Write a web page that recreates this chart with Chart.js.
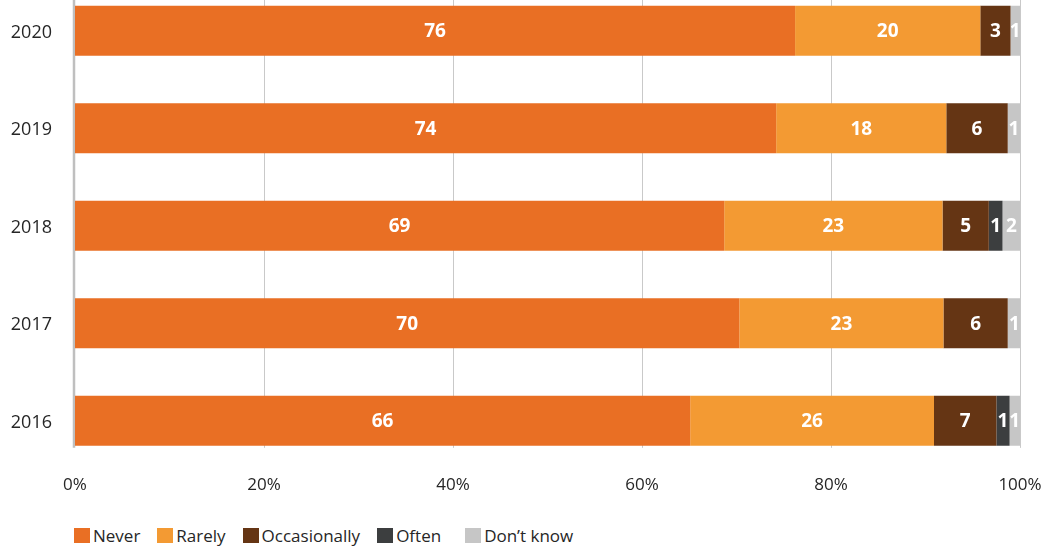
<!DOCTYPE html>
<html>
<head>
<meta charset="utf-8">
<script src="https://cdn.jsdelivr.net/npm/chart.js@4"></script>
<style>
  html, body { margin: 0; padding: 0; background: #fff; overflow: hidden; }
  body { width: 1056px; height: 549px; position: relative; }
  #wrap { position: absolute; left: 0; top: -18px; width: 1056px; height: 525px; }
  #legend {
    position: absolute; left: 74px; top: 524px;
    display: flex; align-items: center;
    font-family: "Open Sans", sans-serif; font-size: 17px; color: #262626;
  }
  #legend .item { display: flex; align-items: center; margin-right: 17px; }
  #legend .item:nth-child(4) { margin-right: 24px; }
  #legend .box { width: 16px; height: 15px; margin-right: 3px; }
</style>
</head>
<body>
<div id="wrap"><canvas id="surveyChart"></canvas></div>
<div id="legend"></div>
<script>
// ## DATA ##
const years = ["2020", "2019", "2018", "2017", "2016"];
const seriesNames = ["Never", "Rarely", "Occasionally", "Often", "Don\u2019t know"];
const seriesColors = ["#E96F24", "#F39A33", "#653514", "#3C3E3F", "#C6C6C6"];

// bar lengths (share, %) as drawn
const never = [76.2, 74.2, 68.7, 70.3, 65.1];
const rarely = [19.6, 18.0, 23.1, 21.6, 25.8];
const occasionally = [3.2, 6.5, 4.9, 6.8, 6.6];
const often = [0, 0, 1.45, 0, 1.4];
const dontKnow = [1.0, 1.3, 1.9, 1.4, 1.1];

// printed labels
const neverLabels = ["76", "74", "69", "70", "66"];
const rarelyLabels = ["20", "18", "23", "23", "26"];
const occasionallyLabels = ["3", "6", "5", "6", "7"];
const oftenLabels = ["", "", "1", "", "1"];
const dontKnowLabels = ["1", "1", "2", "1", "1"];

const xTicks = [0, 20, 40, 60, 80, 100];

const seriesValues = [never, rarely, occasionally, often, dontKnow];
const seriesLabels = [neverLabels, rarelyLabels, occasionallyLabels, oftenLabels, dontKnowLabels];

const FONT = '"Open Sans", sans-serif';

// vertical grid lines, stopping at the bottom of the last bar
const gridPlugin = {
  id: "gridLines",
  beforeDatasetsDraw(chart) {
    const ctx = chart.ctx;
    const xs = chart.scales.x;
    const meta = chart.getDatasetMeta(0);
    const last = meta.data[meta.data.length - 1];
    const bottom = last.y + last.height / 2 + 2;
    ctx.save();
    xTicks.forEach((v) => {
      const x = Math.round(xs.getPixelForValue(v)) + 0.5;
      ctx.beginPath();
      ctx.strokeStyle = v === 0 ? "#BFBFBF" : "#C9C9C9";
      ctx.lineWidth = v === 0 ? 2.5 : 1;
      ctx.moveTo(v === 0 ? x - 1.5 : x, chart.chartArea.top);
      ctx.lineTo(v === 0 ? x - 1.5 : x, bottom);
      ctx.stroke();
    });
    ctx.restore();
  },
};

// white value labels centred in each segment
const valueLabelPlugin = {
  id: "valueLabels",
  afterDatasetsDraw(chart) {
    const ctx = chart.ctx;
    ctx.save();
    ctx.font = "bold 19px " + FONT;
    ctx.fillStyle = "#FFFFFF";
    ctx.textAlign = "center";
    ctx.textBaseline = "middle";
    chart.data.datasets.forEach((ds, i) => {
      const meta = chart.getDatasetMeta(i);
      meta.data.forEach((bar, j) => {
        const txt = seriesLabels[i][j];
        if (!txt) return;
        ctx.fillText(txt, (bar.x + bar.base) / 2, bar.y + 1);
      });
    });
    ctx.restore();
  },
};

const ctx = document.getElementById("surveyChart").getContext("2d");
new Chart(ctx, {
  type: "bar",
  data: {
    labels: years,
    datasets: seriesNames.map((name, i) => ({
      label: name,
      data: seriesValues[i],
      backgroundColor: seriesColors[i],
      borderWidth: 0,
      categoryPercentage: 1,
      barPercentage: 0.513,
    })),
  },
  options: {
    indexAxis: "y",
    responsive: true,
    maintainAspectRatio: false,
    animation: false,
    layout: { padding: { left: 0, right: 36, top: 0, bottom: 7 } },
    plugins: {
      legend: { display: false },
      tooltip: { enabled: false },
    },
    scales: {
      x: {
        stacked: true,
        min: 0,
        max: 100,
        afterBuildTicks(scale) {
          scale.ticks = xTicks.map((v) => ({ value: v }));
        },
        ticks: {
          padding: 5,
          color: "#262626",
          font: { family: FONT, size: 17 },
          callback: (v) => v + "%",
        },
        grid: { display: false, drawTicks: false },
        border: { display: false },
      },
      y: {
        stacked: true,
        afterFit(scale) {
          scale.width = 75;
          scale.paddingTop = 0;
          scale.paddingBottom = 0;
        },
        ticks: {
          padding: 23,
          labelOffset: 2,
          color: "#262626",
          font: { family: FONT, size: 18 },
        },
        grid: { display: false, drawTicks: false },
        border: { display: false },
      },
    },
  },
  plugins: [gridPlugin, valueLabelPlugin],
});

// legend
const legendEl = document.getElementById("legend");
seriesNames.forEach((name, i) => {
  const item = document.createElement("div");
  item.className = "item";
  const box = document.createElement("span");
  box.className = "box";
  box.style.background = seriesColors[i];
  const label = document.createElement("span");
  label.textContent = name;
  item.appendChild(box);
  item.appendChild(label);
  legendEl.appendChild(item);
});
</script>
</body>
</html>
